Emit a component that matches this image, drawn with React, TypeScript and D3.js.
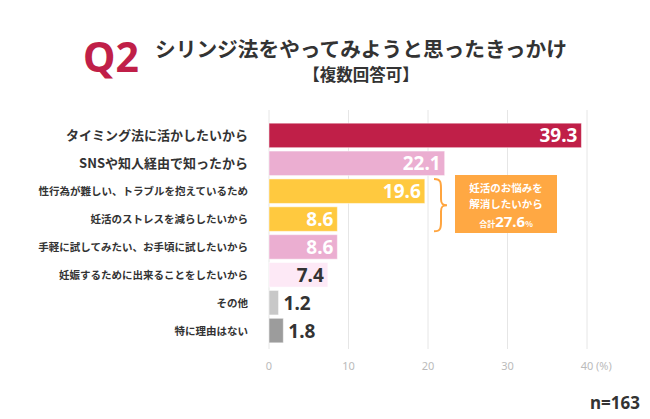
import React from "react";
import * as d3 from "d3";

const categories = [
  "タイミング法に活かしたいから",
  "SNSや知人経由で知ったから",
  "性行為が難しい、トラブルを抱えているため",
  "妊活のストレスを減らしたいから",
  "手軽に試してみたい、お手頃に試したいから",
  "妊娠するために出来ることをしたいから",
  "その他",
  "特に理由はない",
];
const values = [39.3, 22.1, 19.6, 8.6, 8.6, 7.4, 1.2, 1.8];
const barColors = ["#C01F48", "#EBAED1", "#FFC93F", "#FFC93F", "#EBAED1", "#FDE9F6", "#C8C8C8", "#9C9C9C"];
const labelColors = ["#fff", "#fff", "#fff", "#fff", "#fff", "#333", "#333", "#333"];
const labelSizes = [13, 13, 10.5, 10.5, 10.5, 10.5, 10.5, 10.5];
const ticks = [0, 10, 20, 30, 40];

const FONT = "'Noto Sans CJK JP', 'Noto Sans', sans-serif";

export default function App() {
  const x = d3.scaleLinear().domain([0, 40]).range([269, 587]);
  const y = d3.scaleBand<number>().domain(d3.range(categories.length)).range([121.5, 344.5]).paddingInner(0.12).paddingOuter(0.06);
  const bh = y.bandwidth();
  const braceTop = y(2)!;
  const braceBot = y(3)! + bh;
  const bx = 434;
  const bm = (braceTop + braceBot) / 2;
  const bracePath = `M${bx},${braceTop} C${bx + 7},${braceTop} ${bx + 7},${braceTop + 4} ${bx + 7},${braceTop + 10} L${bx + 7},${bm - 6} C${bx + 7},${bm - 1} ${bx + 9},${bm} ${bx + 13},${bm} C${bx + 9},${bm} ${bx + 7},${bm + 1} ${bx + 7},${bm + 6} L${bx + 7},${braceBot - 10} C${bx + 7},${braceBot - 4} ${bx + 7},${braceBot} ${bx},${braceBot}`;
  return (
    <svg width={650} height={419} style={{ position: "absolute", left: 0, top: 0, fontFamily: FONT }}>
      <rect width={650} height={419} fill="#fff" />
      <text x={83} y={72} fontSize={41} fontWeight={700} fill="#C01F48" fontFamily="'Noto Sans', sans-serif">Q2</text>
      <text x={155} y={57} fontSize={20.7} fontWeight={700} fill="#333">シリンジ法をやってみようと思ったきっかけ</text>
      <text x={361} y={81} fontSize={16.5} fontWeight={700} fill="#333" textAnchor="middle">【複数回答可】</text>
      {ticks.map((t) => (
        <line key={t} x1={x(t)} x2={x(t)} y1={110} y2={349} stroke="#e6e6e6" strokeWidth={1} />
      ))}
      {ticks.map((t) => (
        <text key={"t" + t} x={x(t)} y={370} fontSize={11} fill="#bbb" textAnchor="middle" fontFamily="'Noto Sans', sans-serif">{t}</text>
      ))}
      <text x={x(40) + 9} y={370} fontSize={11} fill="#bbb" fontFamily="'Noto Sans', sans-serif">(%)</text>
      {values.map((v, i) => {
        const yy = y(i)!;
        const w = x(v) - x(0);
        const inside = w > 35;
        return (
          <g key={i}>
            <rect x={x(0)} y={yy} width={w} height={bh} fill={barColors[i]} stroke="#fff" strokeOpacity={0.5} strokeWidth={1} />
            <text
              x={inside ? x(v) - 4 : x(v) + 5}
              y={yy + bh / 2 + 7}
              fontSize={19}
              fontWeight={700}
              fill={labelColors[i]}
              textAnchor={inside ? "end" : "start"}
              fontFamily="'Noto Sans', sans-serif"
            >
              {v.toFixed(1)}
            </text>
            <text x={248} y={yy + bh / 2 + labelSizes[i] * 0.38} fontSize={labelSizes[i]} fontWeight={700} fill="#333" textAnchor="end">
              {categories[i]}
            </text>
          </g>
        );
      })}
      <path d={bracePath} fill="none" stroke="#FFA53F" strokeWidth={2} />
      <rect x={455} y={175} width={102} height={58} fill="#FFA843" />
      <text x={506} y={192} fontSize={10.5} fontWeight={700} fill="#fff" textAnchor="middle">妊活のお悩みを</text>
      <text x={506} y={208} fontSize={10.5} fontWeight={700} fill="#fff" textAnchor="middle">解消したいから</text>
      <text x={506} y={227} fill="#fff" textAnchor="middle" fontWeight={700}>
        <tspan fontSize={8}>合計</tspan>
        <tspan fontSize={15} fontFamily="'Noto Sans', sans-serif">27.6</tspan>
        <tspan fontSize={8}>%</tspan>
      </text>
      <text x={640} y={409} fontSize={17} fontWeight={700} fill="#333" textAnchor="end" fontFamily="'Noto Sans', sans-serif">n=163</text>
    </svg>
  );
}
